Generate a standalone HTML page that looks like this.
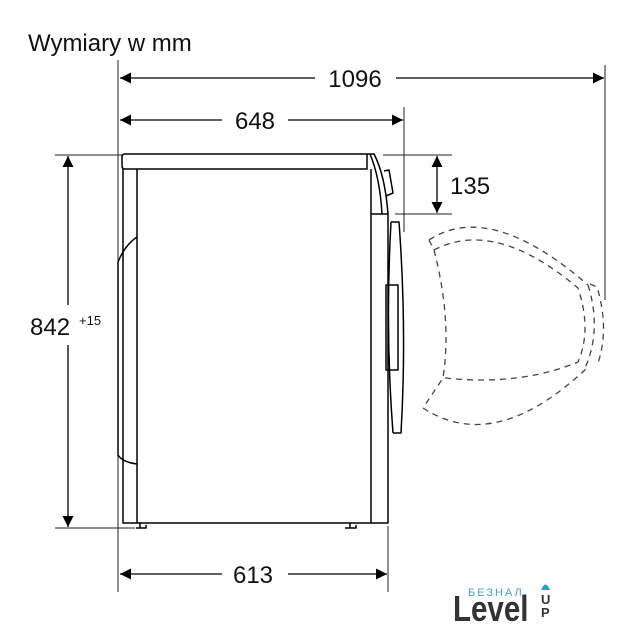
<!DOCTYPE html>
<html><head><meta charset="utf-8"><style>
html,body{margin:0;padding:0;background:#fff;}
svg{display:block;}
text{font-family:"Liberation Sans",sans-serif;fill:#111;}
</style></head><body>
<svg width="640" height="640" viewBox="0 0 640 640" xmlns="http://www.w3.org/2000/svg">
<defs>
<marker id="a" viewBox="0 0 10 10" refX="10" refY="5" markerWidth="15" markerHeight="11" markerUnits="userSpaceOnUse" orient="auto-start-reverse"><path d="M0,0 L10,5 L0,10 Z" fill="#000"/></marker>
</defs>
<text x="28" y="51" font-size="24">Wymiary w mm</text>
<g stroke="#222" stroke-width="1" fill="none">
<line x1="118" y1="60" x2="118" y2="592"/>
<line x1="605" y1="65" x2="605" y2="300"/>
<line x1="404" y1="107" x2="404" y2="232"/>
<line x1="388" y1="526" x2="388" y2="592"/>
<line x1="55" y1="155" x2="122" y2="155"/>
<line x1="55" y1="528" x2="135" y2="528"/>
<line x1="383" y1="155" x2="452" y2="155"/>
<line x1="395" y1="214" x2="452" y2="214"/>
</g>
<g stroke="#000" stroke-width="1.3" fill="none">
<line x1="120" y1="78" x2="315" y2="78" marker-start="url(#a)"/>
<line x1="396" y1="78" x2="604" y2="78" marker-end="url(#a)"/>
<line x1="120" y1="120" x2="222" y2="120" marker-start="url(#a)"/>
<line x1="288" y1="120" x2="403" y2="120" marker-end="url(#a)"/>
<line x1="120" y1="574" x2="222" y2="574" marker-start="url(#a)"/>
<line x1="288" y1="574" x2="387" y2="574" marker-end="url(#a)"/>
<line x1="437" y1="156" x2="437" y2="213" marker-start="url(#a)" marker-end="url(#a)"/>
<line x1="68" y1="156" x2="68" y2="305" marker-start="url(#a)"/>
<line x1="68" y1="345" x2="68" y2="527" marker-end="url(#a)"/>
</g>
<text x="355" y="87" font-size="24" text-anchor="middle">1096</text>
<text x="255" y="129" font-size="24" text-anchor="middle">648</text>
<text x="253" y="583" font-size="24" text-anchor="middle">613</text>
<text x="450" y="194" font-size="24">135</text>
<text x="30" y="335" font-size="24">842</text>
<text x="79" y="325" font-size="13">+15</text>
<g stroke="#000" stroke-width="1.5" fill="none" stroke-linejoin="round">
<path d="M125,154 L367,154 L367,169 L125,169 Q122,169 122,166 L122,157 Q122,154 125,154 Z"/>
<path d="M123,169 L123,523 L388,523 L388,214 L371,214 L371,169"/>
<line x1="137" y1="169" x2="137" y2="523"/>
<line x1="371" y1="214" x2="371" y2="523"/>
<path d="M367,154 L374,154 Q385,175 388,214"/>
<path d="M370,154 Q380,178 382,214"/>
<path d="M384,171 L389,170 L393,193 L386,196"/>
<path d="M137,237 Q125,245 118,262 L118,455 Q122,462 137,464"/>
<path d="M140,523 L140,528 M136,528 L146,528 L146,525 M350,523 L350,528 M345,528 L356,528 L356,525"/>
<path d="M391,222 L399,222 Q407,330 401,433 L393,433"/>
<path d="M391,222 Q385,330 393,433"/>
<path d="M386,285 L398,285 L398,370 L386,370 Z"/>
</g>
<g stroke="#444" stroke-width="1.3" fill="none" stroke-dasharray="6,5">
<path d="M429,240 L434,250"/>
<path d="M429,240 Q490,200 588,285"/>
<path d="M434,250 Q495,218 578,288 Q592,330 578,362"/>
<path d="M588,285 Q602,330 585,368"/>
<path d="M590,284 L597,287 Q610,330 597,366"/>
<path d="M434,250 Q452,320 443,378 L423,408"/>
<path d="M445,378 Q520,386 578,362"/>
<path d="M423,408 Q495,455 587,368"/>
</g>
<text x="468" y="596" font-size="11" style="fill:#4aa3c8;letter-spacing:2px">БЕЗНАЛ</text>
<text x="453" y="621" font-size="36" font-weight="bold" style="fill:#333" transform="translate(453 621) scale(0.82,1) translate(-453 -621)">Level</text>
<text x="541" y="604" font-size="13" font-weight="bold" style="fill:#333">U</text>
<text x="541" y="617" font-size="13" font-weight="bold" style="fill:#333">P</text>
<path d="M541,590 Q545.5,579 550,590 Z" fill="#2aa0c8"/>
</svg>
</body></html>
